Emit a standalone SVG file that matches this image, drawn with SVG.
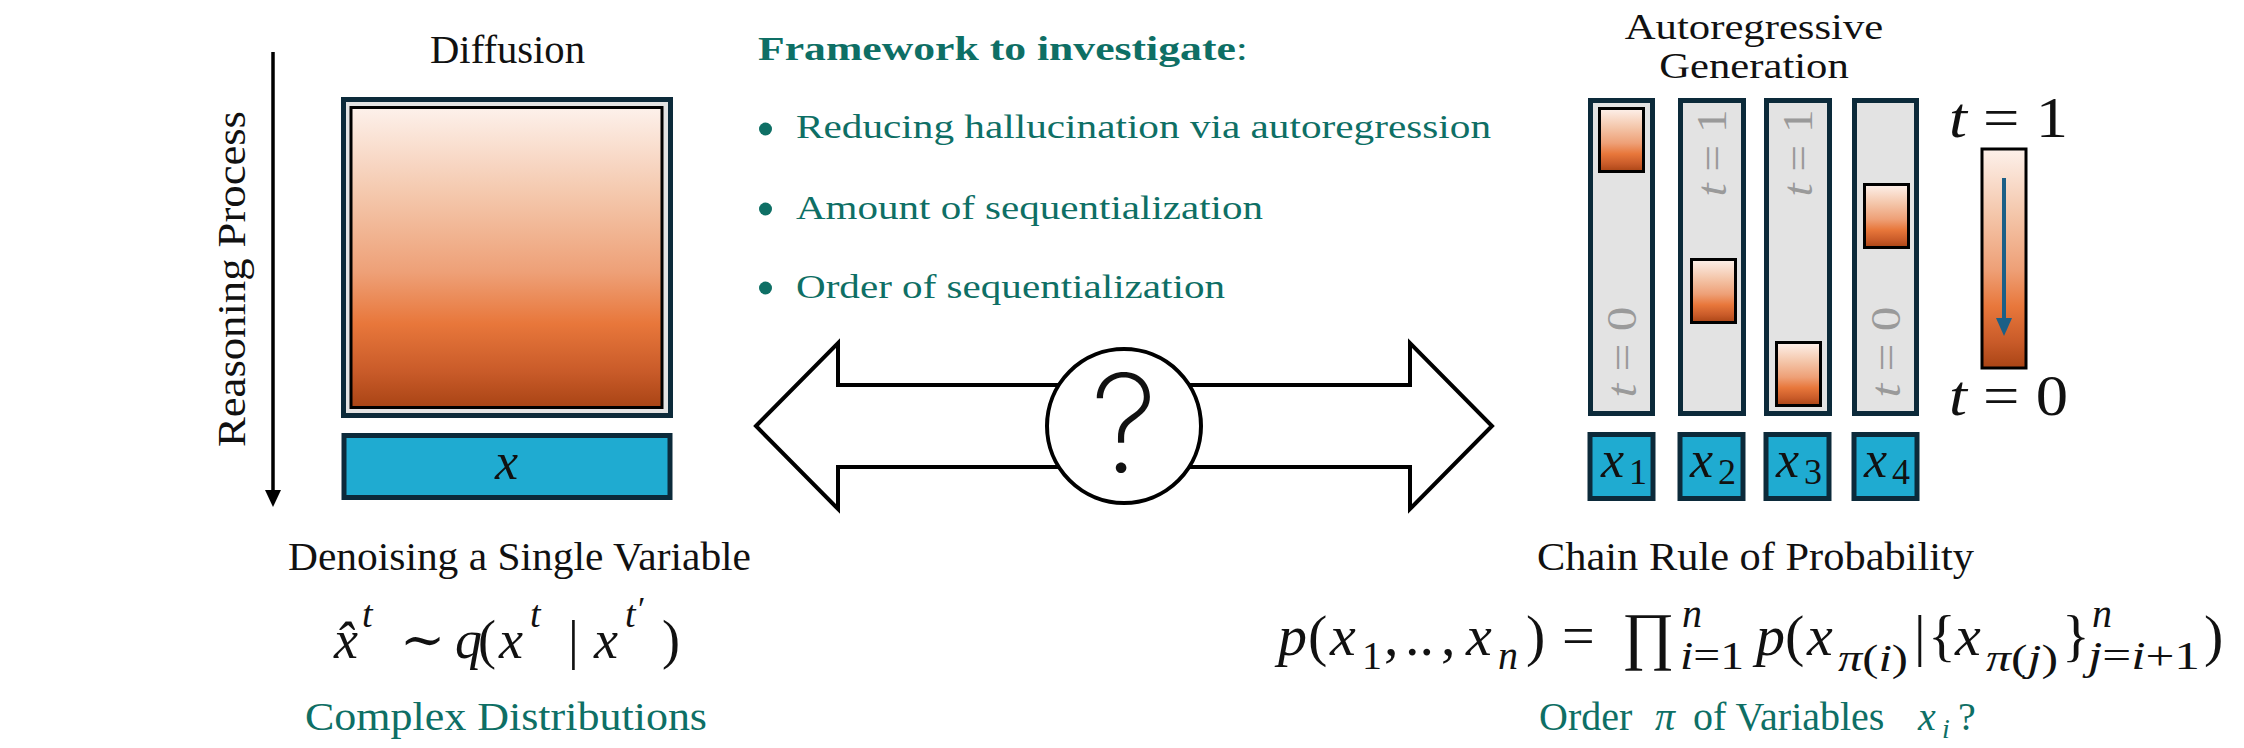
<svg xmlns="http://www.w3.org/2000/svg" width="2244" height="748" viewBox="0 0 2244 748">
<defs>
  <linearGradient id="heat" x1="0" y1="0" x2="0" y2="1">
    <stop offset="0" stop-color="#fdf1eb"/>
    <stop offset="0.3" stop-color="#f4c6aa"/>
    <stop offset="0.55" stop-color="#eea077"/>
    <stop offset="0.72" stop-color="#e8773b"/>
    <stop offset="0.88" stop-color="#c95b29"/>
    <stop offset="1" stop-color="#a94415"/>
  </linearGradient>
  <style>
    text { font-family: "Liberation Serif", "DejaVu Serif", serif; fill: #111; }
    .it { font-style: italic; }
    .teal { fill: #0e6f65; }
    .grey { fill: #9a9a9a; }
    .col { fill: #e3e3e3; stroke: #0c2a3a; stroke-width: 5; }
    .var { fill: #1fabd1; stroke: #0c2a3a; stroke-width: 5; }
    .blk { fill: url(#heat); stroke: #000; stroke-width: 3; }
    .outline { fill: #fff; stroke: #000; stroke-width: 4; stroke-linejoin: miter; }
  </style>
</defs>
<rect width="2244" height="748" fill="#fff"/>

<g id="connectors">
  <line x1="273" y1="52" x2="273" y2="492" stroke="#000" stroke-width="3.5"/>
  <polygon points="265,490 281,490 273,507" fill="#000"/>
</g>

<g id="reasoning-label">
  <text transform="translate(245,279) rotate(-90)" text-anchor="middle" font-size="40" textLength="336" lengthAdjust="spacingAndGlyphs">Reasoning Process</text>
</g>

<g id="diffusion">
  <text x="430" y="63" font-size="41" textLength="155" lengthAdjust="spacingAndGlyphs">Diffusion</text>
  <rect class="col" x="343.5" y="99.5" width="327" height="316"/>
  <rect class="blk" x="351" y="107.5" width="311" height="300" stroke-width="3.5"/>
</g>

<g id="x-single">
  <rect class="var" x="344" y="435.5" width="326" height="62"/>
  <text class="it" x="495" y="479" font-size="52">x</text>
</g>

<g id="framework">
  <text x="758" y="60" font-size="34" class="teal" textLength="490" lengthAdjust="spacingAndGlyphs"><tspan font-weight="bold">Framework to investigate</tspan>:</text>
  <circle cx="765.5" cy="129" r="6.5" fill="#0e6f65"/>
  <text x="796" y="138" font-size="34" class="teal" textLength="695" lengthAdjust="spacingAndGlyphs">Reducing hallucination via autoregression</text>
  <circle cx="765.5" cy="209" r="6.5" fill="#0e6f65"/>
  <text x="796" y="219" font-size="34" class="teal" textLength="467" lengthAdjust="spacingAndGlyphs">Amount of sequentialization</text>
  <circle cx="765.5" cy="288" r="6.5" fill="#0e6f65"/>
  <text x="796" y="298" font-size="34" class="teal" textLength="429" lengthAdjust="spacingAndGlyphs">Order of sequentialization</text>
</g>

<g id="double-arrow">
  <polygon class="outline" points="756,426 838,343 838,385 1410,385 1410,343 1492,426 1410,509 1410,467 838,467 838,509"/>
  <circle cx="1124" cy="426" r="77" fill="#fff" stroke="#000" stroke-width="4"/>
  <text x="1124" y="472" text-anchor="middle" font-size="136" font-weight="200" style="font-family: Inter, 'Open Sans', sans-serif">?</text>
</g>

<g id="ar-title">
  <text transform="translate(1754,0) scale(1.22,1)" text-anchor="middle" font-size="35"><tspan x="0" y="39">Autoregressive</tspan><tspan x="0" y="78.5">Generation</tspan></text>
</g>

<g id="col1">
  <rect class="col" x="1590.5" y="100.5" width="62" height="313"/>
  <rect class="blk" x="1599.5" y="108.5" width="44" height="63"/>
  <text class="grey" transform="translate(1636,352) rotate(-90)" text-anchor="middle" font-size="43" textLength="91" lengthAdjust="spacingAndGlyphs"><tspan class="it">t</tspan> = 0</text>
</g>
<g id="col2">
  <rect class="col" x="1680.5" y="100.5" width="63" height="313"/>
  <rect class="blk" x="1691.5" y="259.5" width="44" height="63"/>
  <text class="grey" transform="translate(1726,153) rotate(-90)" text-anchor="middle" font-size="43" textLength="87" lengthAdjust="spacingAndGlyphs"><tspan class="it">t</tspan> = 1</text>
</g>
<g id="col3">
  <rect class="col" x="1766.5" y="100.5" width="63" height="313"/>
  <rect class="blk" x="1776.5" y="342.5" width="44" height="63"/>
  <text class="grey" transform="translate(1812,153) rotate(-90)" text-anchor="middle" font-size="43" textLength="87" lengthAdjust="spacingAndGlyphs"><tspan class="it">t</tspan> = 1</text>
</g>
<g id="col4">
  <rect class="col" x="1854.5" y="100.5" width="62" height="313"/>
  <rect class="blk" x="1864.5" y="184.5" width="44" height="63"/>
  <text class="grey" transform="translate(1900,352) rotate(-90)" text-anchor="middle" font-size="43" textLength="91" lengthAdjust="spacingAndGlyphs"><tspan class="it">t</tspan> = 0</text>
</g>

<g id="x1">
  <rect class="var" x="1590" y="434.5" width="63" height="64"/>
  <text x="1601" y="477" font-size="52"><tspan class="it">x</tspan><tspan x="1629" y="484" font-size="36">1</tspan></text>
</g>
<g id="x2">
  <rect class="var" x="1680" y="434.5" width="63" height="64"/>
  <text x="1690" y="477" font-size="52"><tspan class="it">x</tspan><tspan x="1718" y="484" font-size="36">2</tspan></text>
</g>
<g id="x3">
  <rect class="var" x="1766" y="434.5" width="63" height="64"/>
  <text x="1776" y="477" font-size="52"><tspan class="it">x</tspan><tspan x="1804" y="484" font-size="36">3</tspan></text>
</g>
<g id="x4">
  <rect class="var" x="1854" y="434.5" width="63" height="64"/>
  <text x="1864" y="477" font-size="52"><tspan class="it">x</tspan><tspan x="1892" y="484" font-size="36">4</tspan></text>
</g>

<g id="time-scale">
  <text x="1949" y="137" font-size="56" textLength="119" lengthAdjust="spacingAndGlyphs"><tspan class="it">t</tspan> = 1</text>
  <rect class="blk" x="1982" y="149" width="44" height="219" stroke-width="4"/>
  <line x1="2004" y1="178" x2="2004" y2="322" stroke="#1c5f86" stroke-width="4"/>
  <polygon points="1996,318 2012,318 2004,336" fill="#1c5f86"/>
  <text x="1949" y="415" font-size="56" textLength="119" lengthAdjust="spacingAndGlyphs"><tspan class="it">t</tspan> = 0</text>
</g>

<g id="left-caption">
  <text x="288" y="570" font-size="39" textLength="463" lengthAdjust="spacingAndGlyphs">Denoising a Single Variable</text>
  <text font-size="54" y="658"><tspan class="it" x="334">x̂</tspan><tspan class="it" x="362" y="627" font-size="38">t</tspan><tspan x="400" y="658">∼</tspan><tspan class="it" x="455" y="658">q</tspan><tspan x="478" y="658">(</tspan><tspan class="it" x="499" y="658">x</tspan><tspan class="it" x="530" y="627" font-size="38">t</tspan><tspan x="568" y="658">|</tspan><tspan class="it" x="594" y="658">x</tspan><tspan class="it" x="625" y="627" font-size="38">t</tspan><tspan x="638" y="620" font-size="34">′</tspan><tspan x="662" y="658">)</tspan></text>
  <text x="305" y="730" font-size="40" class="teal" textLength="402" lengthAdjust="spacingAndGlyphs">Complex Distributions</text>
</g>

<g id="right-caption">
  <text x="1537" y="570" font-size="39" textLength="437" lengthAdjust="spacingAndGlyphs">Chain Rule of Probability</text>
  <text font-size="58" y="655"><tspan class="it" x="1278">p</tspan><tspan x="1308">(</tspan><tspan class="it" x="1330">x</tspan><tspan x="1362" y="669" font-size="40">1</tspan><tspan x="1384" y="655">,</tspan><tspan x="1405">..</tspan><tspan x="1441">,</tspan><tspan class="it" x="1466">x</tspan><tspan class="it" x="1498" y="669" font-size="40">n</tspan><tspan x="1526" y="655">)</tspan><tspan x="1562">=</tspan><tspan x="1622" y="657" font-size="64">∏</tspan><tspan class="it" x="1682" y="627" font-size="40">n</tspan><tspan class="it" x="1756" y="655">p</tspan><tspan x="1785">(</tspan><tspan class="it" x="1807">x</tspan><tspan x="1914" y="655">|</tspan><tspan x="1928">{</tspan><tspan class="it" x="1955">x</tspan><tspan x="2062" y="655">}</tspan><tspan class="it" x="2092" y="627" font-size="40">n</tspan><tspan x="2204" y="655">)</tspan></text>
  <text x="1680" y="669" font-size="40" textLength="64" lengthAdjust="spacingAndGlyphs"><tspan class="it">i</tspan>=1</text>
  <text x="1838" y="671" font-size="38" textLength="70" lengthAdjust="spacingAndGlyphs"><tspan class="it">π</tspan>(<tspan class="it">i</tspan>)</text>
  <text x="1986" y="671" font-size="38" textLength="72" lengthAdjust="spacingAndGlyphs"><tspan class="it">π</tspan>(<tspan class="it">j</tspan>)</text>
  <text x="2088" y="669" font-size="40" textLength="112" lengthAdjust="spacingAndGlyphs"><tspan class="it">j</tspan>=<tspan class="it">i</tspan>+1</text>
  <text font-size="40" y="730" class="teal"><tspan x="1539">Order</tspan><tspan class="it" x="1655">π</tspan><tspan x="1693">of Variables</tspan><tspan class="it" x="1918">x</tspan><tspan class="it" x="1942" y="738" font-size="28">i</tspan><tspan x="1958" y="730">?</tspan></text>
</g>
</svg>
